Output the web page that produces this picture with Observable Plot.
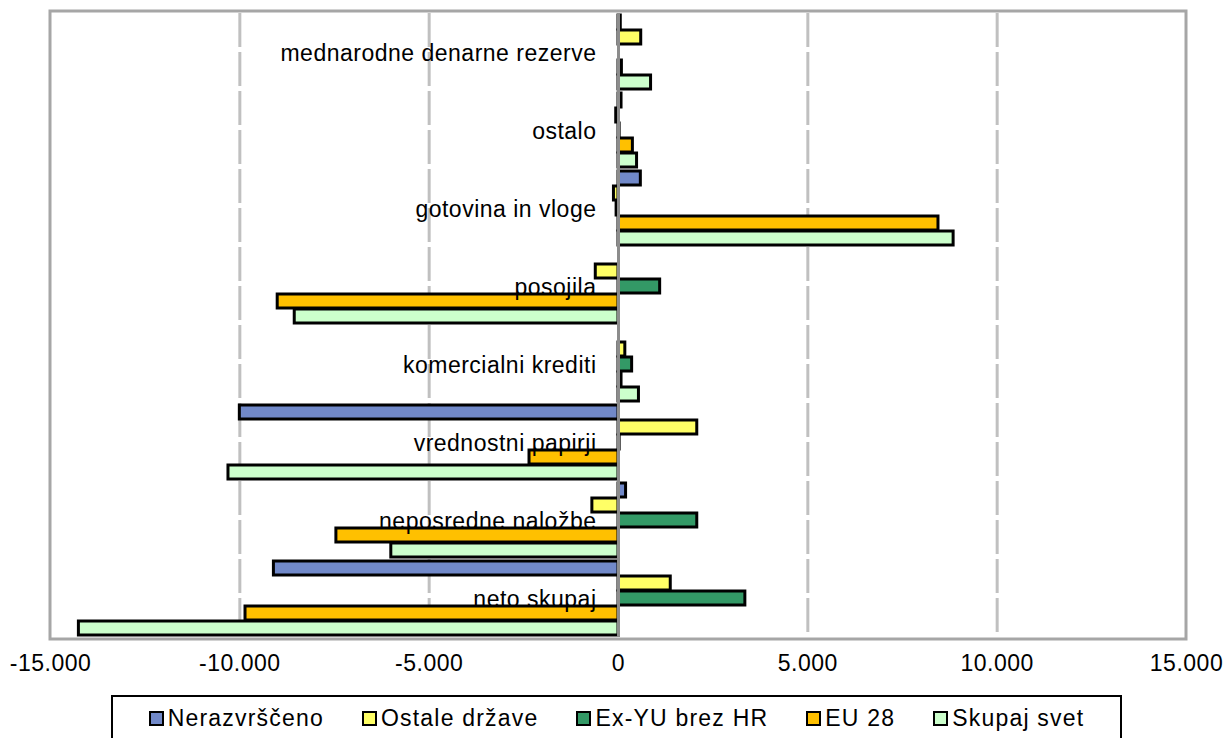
<!DOCTYPE html>
<html>
<head>
<meta charset="utf-8">
<script src="https://cdn.jsdelivr.net/npm/d3@7"></script>
<script src="https://cdn.jsdelivr.net/npm/@observablehq/plot@0.6"></script>
<style>
  html, body { margin: 0; padding: 0; background: #fff; }
  #wrap { position: relative; width: 1230px; height: 738px; overflow: hidden; font-family: "Liberation Sans", Arial, sans-serif; }
  #chart svg text { letter-spacing: 0.5px; }
  #legend {
    position: absolute; left: 111px; top: 695px; width: 1011px; height: 60px;
    box-sizing: border-box; border: 2.5px solid #000; background: #fff;
    display: flex; justify-content: center; align-items: flex-start; gap: 38px;
    padding-top: 8px; font-size: 23px; letter-spacing: 1.2px; color: #000;
  }
  .item { display: flex; align-items: center; white-space: nowrap; line-height: 26px; }
  .sw { width: 11px; height: 11px; border: 2.5px solid #000; margin-right: 4px; }
</style>
</head>
<body>
<div id="wrap">
  <div id="chart"></div>
  <div id="legend"></div>
</div>
<script>
// ---- data ----
const categories = [
  "mednarodne denarne rezerve",
  "ostalo",
  "gotovina in vloge",
  "posojila",
  "komercialni krediti",
  "vrednostni papirji",
  "neposredne naložbe",
  "neto skupaj"
];
const series = ["Nerazvrščeno", "Ostale države", "Ex-YU brez HR", "EU 28", "Skupaj svet"];
const colors = ["#7189c9", "#ffff66", "#339966", "#ffc000", "#ccffcc"];

const nerazvrsceno = [60, 80, 590, 0, 0, -10000, 200, -9100];
const ostaleDrzave = [600, -60, -120, -600, 180, 2080, -690, 1380];
const exYuBrezHr   = [0, 30, -50, 1100, 360, 30, 2080, 3350];
const eu28         = [90, 380, 8450, -9000, 80, -2350, -7450, -9850];
const skupajSvet   = [860, 490, 8850, -8550, 540, -10300, -6000, -14250];

const xTicks = [-15000, -10000, -5000, 0, 5000, 10000, 15000];
const gridTicks = [-10000, -5000, 5000, 10000];

// ---- table ----
const seriesValues = [nerazvrsceno, ostaleDrzave, exYuBrezHr, eu28, skupajSvet];
const rows = [];
categories.forEach((c, i) => {
  series.forEach((s, j) => rows.push({category: c, series: s, value: seriesValues[j][i]}));
});

const fmt = d3.formatLocale({decimal: ",", thousands: ".", grouping: [3], currency: ["", ""], minus: "-"}).format(",");
const font = '"Liberation Sans", Arial, sans-serif';

const plot = Plot.plot({
  width: 1230,
  height: 690,
  marginLeft: 50,
  marginRight: 44,
  marginTop: 11,
  marginBottom: 51,
  style: {fontFamily: font, fontSize: "23px", background: "transparent", color: "#000"},
  x: {domain: [-15000, 15000], axis: null},
  y: {domain: series, axis: null, paddingInner: 0.1, paddingOuter: 0.12},
  fy: {domain: categories, axis: null, padding: 0},
  color: {domain: series, range: colors},
  marks: [
    Plot.ruleX(gridTicks, {stroke: "#c0c0c0", strokeWidth: 3, strokeDasharray: "34,5"}),
    Plot.barX(rows, {fy: "category", y: "series", x: "value", fill: "series", stroke: "#000", strokeWidth: 3}),
    Plot.ruleX([0], {stroke: "#8c8c8c", strokeWidth: 3}),
    Plot.text(categories, {fy: d => d, x: 0, text: d => d, textAnchor: "end", dx: -22, dy: 1, fontSize: 23, fill: "#000"}),
    Plot.axisX({ticks: xTicks, tickFormat: fmt, tickSize: 0, tickPadding: 17, fontSize: 23, label: null, anchor: "bottom", fill: "#000"})
  ]
});
document.getElementById("chart").appendChild(plot);

// outer plot frame drawn from the library's scales
const sx = plot.scale("x");
const fyRange = plot.scale("fy").range;
const x0 = sx.apply(-15000), x1 = sx.apply(15000);
const y0 = Math.min(...fyRange), y1 = Math.max(...fyRange);
d3.select(plot).append("rect")
  .attr("x", x0).attr("y", y0).attr("width", x1 - x0).attr("height", y1 - y0)
  .attr("fill", "none").attr("stroke", "#a6a6a6").attr("stroke-width", 3);

// legend
const legend = d3.select("#legend");
series.forEach((s, j) => {
  const it = legend.append("div").attr("class", "item");
  it.append("div").attr("class", "sw").style("background", colors[j]);
  it.append("span").text(s);
});
</script>
</body>
</html>
